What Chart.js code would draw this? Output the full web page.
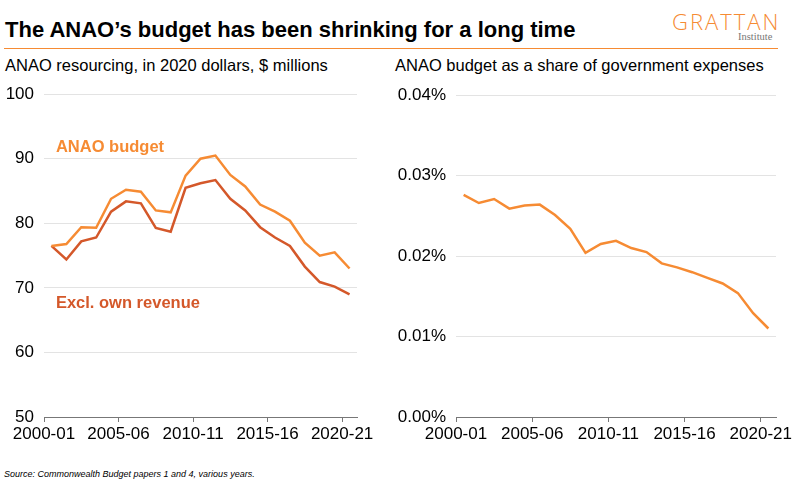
<!DOCTYPE html>
<html>
<head>
<meta charset="utf-8">
<script src="https://cdn.jsdelivr.net/npm/chart.js@4/dist/chart.umd.min.js"></script>
<style>
  body { margin: 0; width: 800px; height: 486px; background: #fff; position: relative; overflow: hidden; font-family: "Liberation Sans", Arial, sans-serif; }
  .abs { position: absolute; }
  #title { left: 5px; top: 17px; font-size: 22px; font-weight: bold; color: #000; white-space: nowrap; }
  #rule { left: 4px; top: 48px; width: 774px; height: 0; border-top: 1.5px solid #F68B33; }
  #logo { left: 672px; top: 6px; font-family: "Open Sans", sans-serif; font-weight: 300; font-size: 22px; color: #F68B33; letter-spacing: 2px; }
  #inst { left: 738px; top: 31px; font-family: "Liberation Serif", serif; font-size: 10.5px; color: #777; }
  .sub { top: 56px; font-size: 16.5px; color: #000; white-space: nowrap; }
  #source { left: 4px; top: 469px; font-size: 9px; font-style: italic; color: #000; }
</style>
</head>
<body>
<div id="title" class="abs">The ANAO’s budget has been shrinking for a long time</div>
<div id="logo" class="abs">GRATTAN</div>
<div id="inst" class="abs">Institute</div>
<div id="rule" class="abs"></div>
<div class="abs sub" style="left:5px">ANAO resourcing, in 2020 dollars, $ millions</div>
<div class="abs sub" style="left:395px">ANAO budget as a share of government expenses</div>
<div class="abs" style="left:0px; top:74px; width:380px; height:373px;"><canvas id="left"></canvas></div>
<div class="abs" style="left:390px; top:75px; width:410px; height:372px;"><canvas id="right"></canvas></div>
<div id="source" class="abs">Source: Commonwealth Budget papers 1 and 4, various years.</div>

<script>
const years = ['2000-01','2001-02','2002-03','2003-04','2004-05','2005-06','2006-07','2007-08','2008-09','2009-10',
  '2010-11','2011-12','2012-13','2013-14','2014-15','2015-16','2016-17','2017-18','2018-19','2019-20','2020-21'];
const anaoBudget = [76.5, 76.8, 79.4, 79.3, 83.8, 85.2, 84.9, 82.0, 81.7, 87.4, 90.0, 90.5, 87.5, 85.7, 82.9, 81.8, 80.4, 77.0, 75.0, 75.5, 73.0];
const exclOwnRevenue = [76.5, 74.4, 77.2, 77.8, 81.8, 83.4, 83.1, 79.3, 78.7, 85.5, 86.2, 86.7, 83.8, 82.0, 79.4, 77.8, 76.5, 73.3, 70.9, 70.2, 69.0];
const shareOfExpenses = [0.0276, 0.0266, 0.0271, 0.0259, 0.0263, 0.0264, 0.0251, 0.0234, 0.0204, 0.0215, 0.0219, 0.0210, 0.0205, 0.0191, 0.0186, 0.0180, 0.0173, 0.0166, 0.0154, 0.0129, 0.0110];
const xTickYears = ['2000-01', '2005-06', '2010-11', '2015-16', '2020-21'];

const light = '#F68B33';
const dark = '#D4582A';
Chart.defaults.font.family = '"Liberation Sans", Arial, sans-serif';
Chart.defaults.color = '#000';

function pts(arr) {
  return arr.map((v, i) => ({ x: i, y: v }));
}

function xScale() {
  return {
    type: 'linear', min: -0.5, max: years.length - 0.5,
    afterBuildTicks: s => { s.ticks = xTickYears.map(y => ({ value: years.indexOf(y) - 0.5 })); },
    afterFit: s => { s.height = 30; },
    ticks: { font: { size: 17 }, padding: 2, maxRotation: 0, autoSkip: false,
      callback: v => years[Math.round(v + 0.5)] },
    grid: { drawOnChartArea: false, drawTicks: true, tickLength: 5, color: '#777' },
    border: { display: true, color: '#777', width: 1 }
  };
}

// text labels placed at data coordinates
const lineLabels = {
  id: 'lineLabels',
  afterDatasetsDraw(chart, args, opts) {
    if (!opts.items) return;
    const ctx = chart.ctx;
    ctx.save();
    ctx.font = 'bold 16.5px "Liberation Sans", Arial, sans-serif';
    ctx.textBaseline = 'middle';
    opts.items.forEach(it => {
      ctx.fillStyle = it.color;
      ctx.fillText(it.text, chart.scales.x.getPixelForValue(it.x), chart.scales.y.getPixelForValue(it.y));
    });
    ctx.restore();
  }
};

new Chart(document.getElementById('left'), {
  type: 'line',
  data: {
    datasets: [
      { label: 'ANAO budget', data: pts(anaoBudget), borderColor: light, borderWidth: 2.5, pointRadius: 0, tension: 0 },
      { label: 'Excl. own revenue', data: pts(exclOwnRevenue), borderColor: dark, borderWidth: 2.5, pointRadius: 0, tension: 0 }
    ]
  },
  plugins: [lineLabels],
  options: {
    responsive: true, maintainAspectRatio: false, animation: false,
    layout: { padding: { top: 10, right: 23, left: 0, bottom: 0 } },
    scales: {
      x: xScale(),
      y: {
        min: 50, max: 100,
        afterFit: s => { s.width = 44; },
        ticks: { stepSize: 10, font: { size: 17 }, padding: 10 },
        grid: { drawTicks: false, color: '#e3e3e3' },
        border: { display: false }
      }
    },
    plugins: {
      legend: { display: false }, tooltip: { enabled: false },
      lineLabels: { items: [
        { text: 'ANAO budget', x: 0.3, y: 91.8, color: light },
        { text: 'Excl. own revenue', x: 0.3, y: 67.6, color: dark }
      ] }
    }
  }
});

new Chart(document.getElementById('right'), {
  type: 'line',
  data: {
    datasets: [
      { label: 'Share of government expenses', data: pts(shareOfExpenses), borderColor: light, borderWidth: 2.5, pointRadius: 0, tension: 0 }
    ]
  },
  options: {
    responsive: true, maintainAspectRatio: false, animation: false,
    layout: { padding: { top: 10, right: 24, left: 0, bottom: 0 } },
    scales: {
      x: xScale(),
      y: {
        min: 0, max: 0.04,
        afterFit: s => { s.width = 66; },
        afterBuildTicks: s => { s.ticks = [0, 0.01, 0.02, 0.03, 0.04].map(v => ({ value: v })); },
        ticks: { font: { size: 17 }, padding: 10, callback: v => v.toFixed(2) + '%' },
        grid: { drawTicks: false, color: '#e3e3e3' },
        border: { display: false }
      }
    },
    plugins: { legend: { display: false }, tooltip: { enabled: false } }
  }
});
</script>
</body>
</html>
